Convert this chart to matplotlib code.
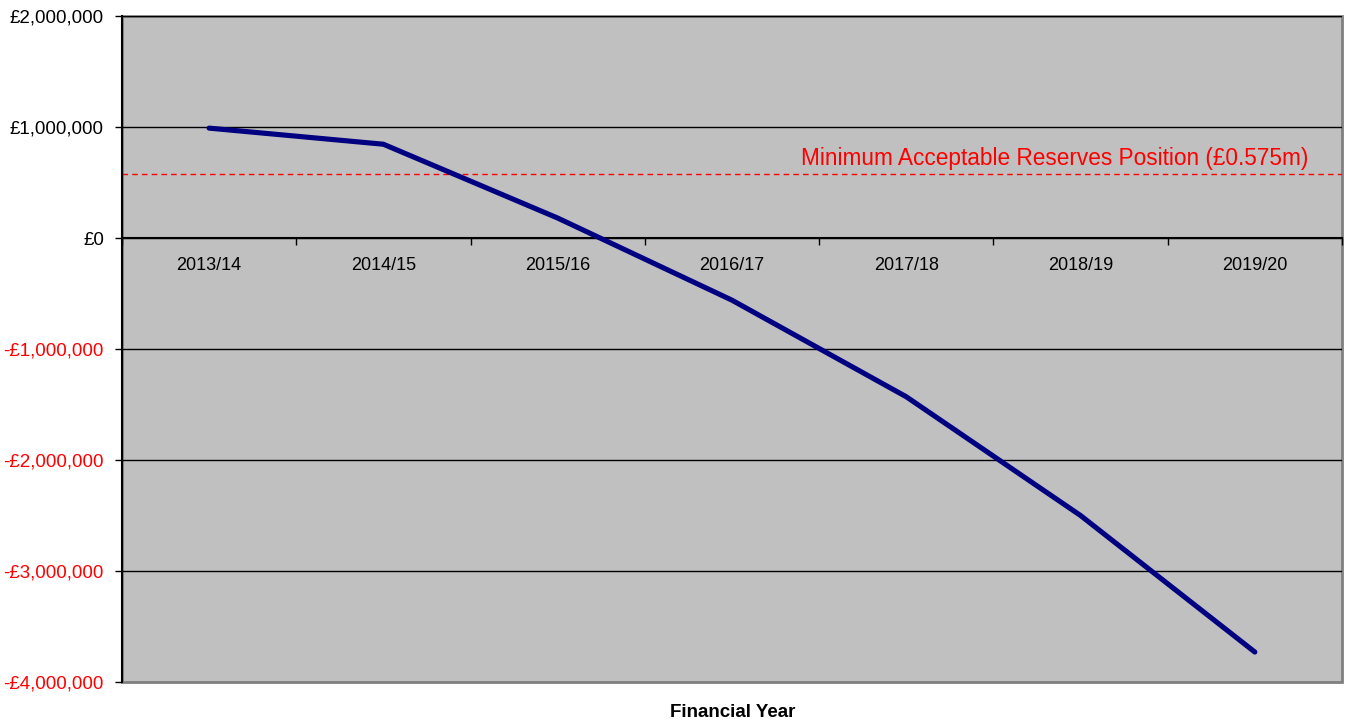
import matplotlib.pyplot as plt
from matplotlib.patches import Rectangle
from matplotlib.ticker import FuncFormatter, FixedLocator
import numpy as np

plt.rcParams['font.family'] = ['Liberation Sans', 'DejaVu Sans']

# forecast general fund reserves by financial year
years = ['2013/14', '2014/15', '2015/16', '2016/17', '2017/18', '2018/19', '2019/20']
reserves = [990000, 845000, 180000, -560000, -1430000, -2500000, -3730000]
min_reserve = 575000

fig = plt.figure(figsize=(13.49, 7.22), dpi=100)
ax = fig.add_axes([0.0904, 0.0554, 0.9044, 0.9224])
ax.set_facecolor('#c0c0c0')

x = np.arange(len(years))
ax.set_xlim(-0.5, len(years) - 0.5)
ax.set_ylim(-4000000, 2000000)

# horizontal gridlines
for v in range(-3000000, 2000001, 1000000):
    ax.axhline(v, color='black', lw=1.0, zorder=1)

ax.axhline(min_reserve, color='#ff0000', lw=1.0, ls=(0, (4, 3)), zorder=2)
ax.text(6.305, min_reserve + 40000, 'Minimum Acceptable Reserves Position (£0.575m)',
        color='#ff0000', fontsize=16.3, ha='right', va='bottom', zorder=3)

ax.plot(x, reserves, color='#000080', lw=3.7, solid_capstyle='round', zorder=4)

# category axis sits on the zero line
for s in ['top', 'right']:
    ax.spines[s].set_visible(False)
ax.spines['bottom'].set_position(('data', 0))
ax.spines['bottom'].set_linewidth(1.5)
ax.spines['left'].set_linewidth(1.5)
ax.add_patch(Rectangle((0, 0), 1, 1, transform=ax.transAxes, fill=False,
                       edgecolor='#808080', lw=2, zorder=0.5, clip_on=False))

ax.xaxis.set_major_locator(FixedLocator(np.arange(-0.5, len(years), 1.0)))
ax.xaxis.set_major_formatter(FuncFormatter(lambda v, p: ''))
ax.set_xticks(x, years, minor=True)
ax.tick_params(axis='x', which='major', direction='out', length=5, width=1)
ax.tick_params(axis='x', which='minor', length=0, pad=14, labelsize=13)

ax.set_yticks(range(-4000000, 2000001, 1000000))


def money(v, pos):
    v = int(round(v))
    return ('-£{:,}' if v < 0 else '£{:,}').format(abs(v))


ax.yaxis.set_major_formatter(FuncFormatter(money))
ax.tick_params(axis='y', direction='out', length=5, width=1, labelsize=13.5, pad=8)
for lab, v in zip(ax.get_yticklabels(), ax.get_yticks()):
    if v < 0:
        lab.set_color('#ff0000')

fig.text(0.543, 0.002, 'Financial Year', fontsize=13.5, fontweight='bold',
         ha='center', va='bottom')

fig.savefig('out.png', dpi=100)
